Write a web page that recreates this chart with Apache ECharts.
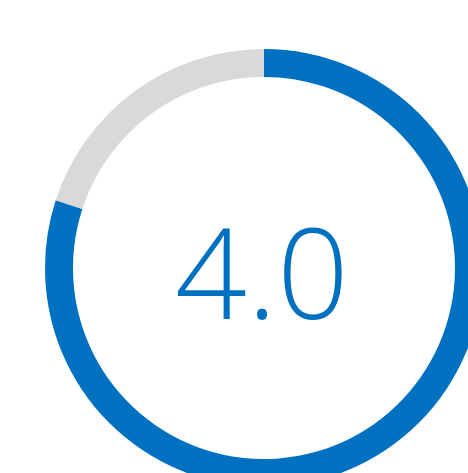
<!DOCTYPE html>
<html><head><meta charset="utf-8">
<script src="https://cdn.jsdelivr.net/npm/echarts@6/dist/echarts.min.js"></script>
<style>html,body{margin:0;padding:0;background:#fff}#c{width:468px;height:473px}</style>
</head><body><div id="c"></div>
<script>
var scoreValue = 4.0;
var maxValue = 5;
var segmentNames = ['score', 'remaining'];
var segmentColors = ['#0070C0', '#D9D9D9'];

var chart = echarts.init(document.getElementById('c'));
chart.setOption({
  animation: false,
  series: [{
    type: 'pie',
    center: [264, 268],
    radius: [191, 219],
    startAngle: 90,
    clockwise: true,
    silent: true,
    label: { show: false },
    labelLine: { show: false },
    data: [
      { name: segmentNames[0], value: scoreValue, itemStyle: { color: segmentColors[0] } },
      { name: segmentNames[1], value: maxValue - scoreValue, itemStyle: { color: segmentColors[1] } }
    ]
  }],
  graphic: [{
    type: 'text',
    x: 262,
    y: 283,
    style: {
      text: scoreValue.toFixed(1),
      fill: '#0070C0',
      font: '300 126px "Open Sans", sans-serif',
      textAlign: 'center',
      textVerticalAlign: 'middle'
    }
  }]
});
</script></body></html>
